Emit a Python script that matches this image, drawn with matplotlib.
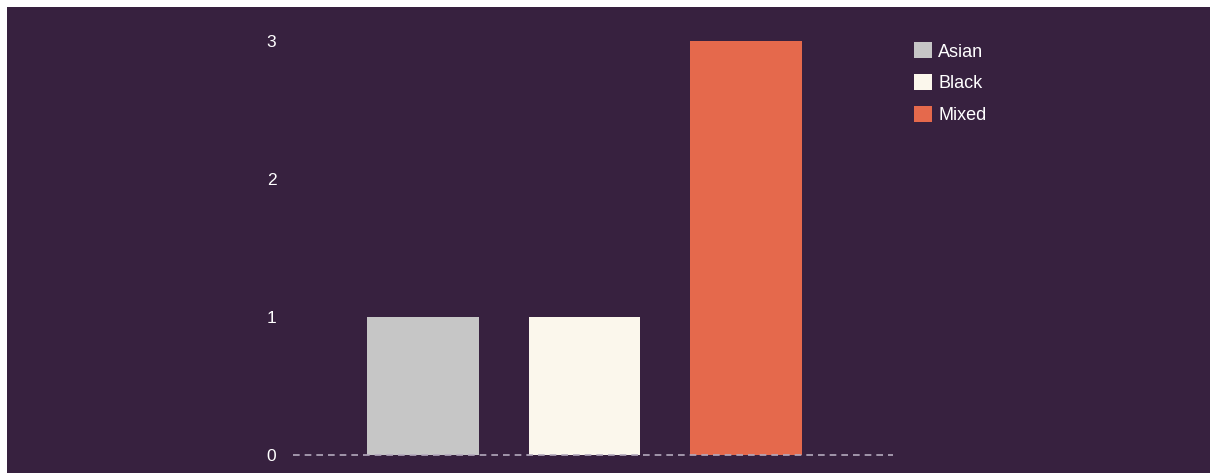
import matplotlib
matplotlib.use("Agg")
import matplotlib.pyplot as plt
from matplotlib.patches import Patch, Rectangle

categories = ["Asian", "Black", "Mixed"]
values = [1, 1, 3]
colors = ["#c6c6c6", "#fbf7ec", "#e5694c"]
yticks = [0, 1, 2, 3]

BG = "#37213f"
W, H = 1210, 473
fig = plt.figure(figsize=(W / 100, H / 100), dpi=100, facecolor="white")
fig.patches.append(Rectangle((7 / W, 0), 1 - 7 / W, 1 - 7 / H, transform=fig.transFigure,
                             facecolor=BG, edgecolor="none", zorder=-10))

plt.rcParams["font.family"] = ["Liberation Sans", "DejaVu Sans"]

left, right = 293 / W, 893 / W
bottom, top = (H - 455) / H, (H - 41) / H
ax = fig.add_axes([left, bottom, right - left, top - bottom])
ax.set_facecolor("none")

x = list(range(len(categories)))
ax.bar(x, values, width=0.69, color=colors, zorder=2)
ax.set_xlim(-0.805, 2.91)
ax.set_ylim(0, 3)

ax.axhline(0, color="#b3a9bd", lw=1.2, ls=(0, (4, 3)), zorder=3, clip_on=False)

for s in ax.spines.values():
    s.set_visible(False)
ax.set_xticks([])
ax.set_yticks(yticks)
ax.set_yticklabels([str(t) for t in yticks])
ax.tick_params(axis="y", length=0, pad=12, labelsize=12.5, labelcolor="white")

handles = [Patch(facecolor=c, edgecolor="none", label=l) for c, l in zip(colors, categories)]
leg = fig.legend(handles=handles, loc="upper left", bbox_to_anchor=(898 / W, 1 - 26 / H),
                 frameon=False, fontsize=13, labelcolor="white", handlelength=1.0,
                 handleheight=1.0, handletextpad=0.33, labelspacing=0.75)

fig.savefig("out.png", dpi=100, facecolor="white")
